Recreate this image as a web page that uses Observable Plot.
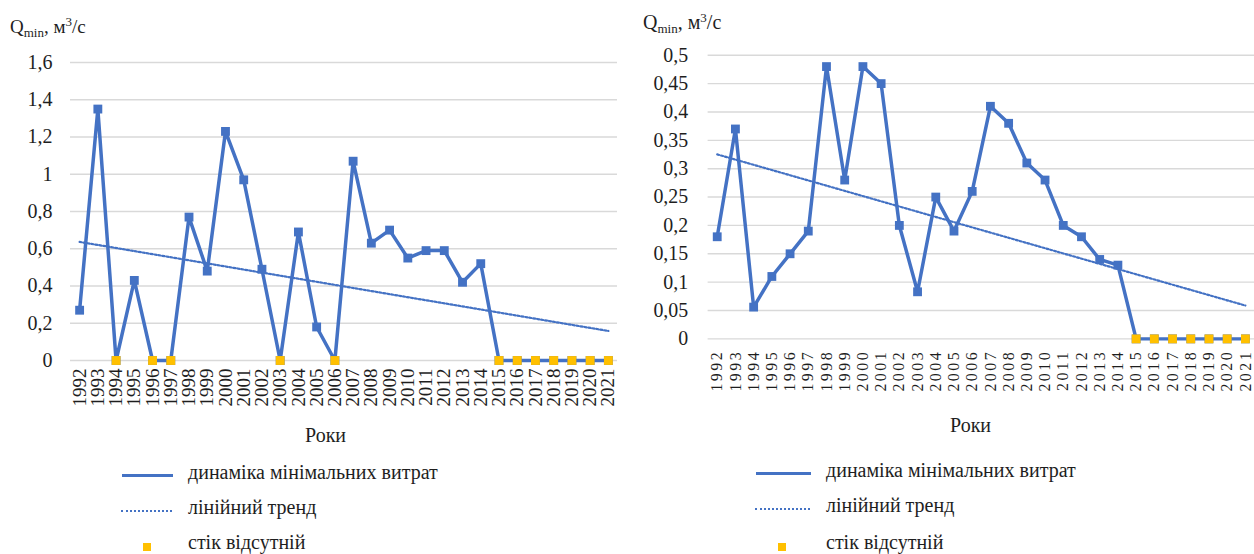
<!DOCTYPE html>
<html>
<head>
<meta charset="utf-8">
<script src="https://cdn.jsdelivr.net/npm/d3@7"></script>
<script src="https://cdn.jsdelivr.net/npm/@observablehq/plot@0.6"></script>
<style>
  html, body, body *, svg, svg text, svg tspan { font-family:'Liberation Serif', serif !important; }
  body { margin:0; width:1254px; height:554px; position:relative; overflow:hidden; background:#fff; color:#1e1e1e; }
  .abs { position:absolute; white-space:nowrap; line-height:20px; }
  #left, #right { position:absolute; top:0; }
  #left { left:0; } #right { left:627px; }
  #right g[aria-label="x-axis tick label"] text { letter-spacing:2.5px; }
  .sub { font-size:13px; position:relative; top:4px; }
  .sup { font-size:13px; position:relative; top:-7px; }
</style>
</head>
<body>
<div id="left"></div>
<div id="right"></div>

<div class="abs" style="left:10px; top:17px; font-size:19px; font-family:'Liberation Serif' !important">Q<span class="sub">min</span>, м<span class="sup">3</span>/с</div>
<div class="abs" style="left:643px; top:12px; font-size:20px; font-family:'Liberation Serif' !important">Q<span class="sub">min</span>, м<span class="sup">3</span>/с</div>
<div class="abs" style="left:305px; top:425px; font-size:20px; font-family:'Liberation Serif' !important">Роки</div>
<div class="abs" style="left:950px; top:415px; font-size:20px; font-family:'Liberation Serif' !important">Роки</div>

<div id="legendL"></div>
<div id="legendR"></div>

<script>
const years = [1992,1993,1994,1995,1996,1997,1998,1999,2000,2001,2002,2003,2004,2005,2006,2007,2008,2009,2010,2011,2012,2013,2014,2015,2016,2017,2018,2019,2020,2021];
const leftQ = [0.27,1.35,0,0.43,0,0,0.77,0.48,1.23,0.97,0.49,0,0.69,0.18,0,1.07,0.63,0.70,0.55,0.59,0.59,0.42,0.52,0,0,0,0,0,0,0];
const rightQ = [0.18,0.37,0.056,0.11,0.15,0.19,0.48,0.28,0.48,0.45,0.20,0.083,0.25,0.19,0.26,0.41,0.38,0.31,0.28,0.20,0.18,0.14,0.13,0,0,0,0,0,0,0];
const leftTicks = [0,0.2,0.4,0.6,0.8,1,1.2,1.4,1.6];
const rightTicks = [0,0.05,0.1,0.15,0.2,0.25,0.3,0.35,0.4,0.45,0.5];
const legendLabels = ["динаміка мінімальних витрат","лінійний тренд","стік відсутній"];

const BLUE = "#4472C4", YELLOW = "#FFC000", GRID = "#d9d9d9", TEXT = "#1e1e1e";
const FONT = "'Liberation Serif', serif";
const fmt = d => String(d).replace(".", ",");

function chart(values, ticks, o) {
  const data = years.map((y, i) => ({year: y, q: values[i]}));
  return Plot.plot({
    width: o.width, height: o.height,
    marginLeft: o.ml, marginRight: o.mr, marginTop: o.mt, marginBottom: o.mb,
    style: {fontFamily: FONT, color: TEXT, background: "white", overflow: "visible"},
    x: {type: "linear", domain: [1991.5, 2021.5]},
    y: {domain: [ticks[0], ticks[ticks.length - 1]]},
    marks: [
      Plot.gridY(ticks, {stroke: GRID, strokeOpacity: 1, strokeWidth: 1.4}),
      Plot.axisY(ticks, {tickSize: 0, tickPadding: o.ypad, fontSize: o.yfs, tickFormat: fmt, label: null, fill: TEXT}),
      Plot.axisX(years, {tickSize: 0, tickPadding: o.xpad, tickRotate: -90, fontSize: o.xfs, tickFormat: d => String(d), label: null, fill: TEXT}),
      Plot.linearRegressionY(data, {x: "year", y: "q", ci: 0, stroke: BLUE, strokeWidth: 2.2, strokeDasharray: "2,2"}),
      Plot.line(data, {x: "year", y: "q", stroke: BLUE, strokeWidth: 3.5}),
      Plot.dot(data, {x: "year", y: "q", symbol: "square", r: 5, fill: BLUE}),
      Plot.dot(data, {filter: d => d.q === 0, x: "year", y: "q", symbol: "square", r: 5, fill: YELLOW})
    ]
  });
}

document.getElementById("left").append(chart(leftQ, leftTicks,
  {width: 627, height: 430, ml: 70, mr: 10, mt: 62, mb: 70, ypad: 18, yfs: 20, xpad: 8, xfs: 19}));
document.getElementById("right").append(chart(rightQ, rightTicks,
  {width: 630, height: 420, ml: 81, mr: 0, mt: 55, mb: 80, ypad: 20, yfs: 20, xpad: 11, xfs: 16}));

document.querySelectorAll("svg text").forEach(t => t.style.setProperty("font-family", FONT, "important"));

function legend(el, cfg) {
  const host = document.getElementById(el);
  const mk = (css) => { const d = document.createElement("div"); d.style.cssText = "position:absolute;" + css; host.append(d); return d; };
  mk(`left:${cfg.lx}px; top:${cfg.rows[0] - 5}px; width:${cfg.lw}px; height:3px; background:${BLUE};`);
  mk(`left:${cfg.lx - 1}px; top:${cfg.rows[1] - 4}px; width:${cfg.lw}px; height:0; border-top:2px dotted ${BLUE};`);
  mk(`left:${cfg.sx}px; top:${cfg.rows[2] - 6}px; width:8px; height:8px; background:${YELLOW};`);
  legendLabels.forEach((t, i) => {
    const d = mk(`left:${cfg.tx}px; top:${cfg.rows[i] - 16}px; font-size:20px; line-height:19px; white-space:nowrap;`);
    d.style.setProperty("font-family", FONT, "important");
    d.textContent = t;
  });
}
legend("legendL", {lx: 122, lw: 51, sx: 143, tx: 188, rows: [479, 514, 549]});
legend("legendR", {lx: 756, lw: 55, sx: 778, tx: 826, rows: [477, 512, 549]});
</script>
</body>
</html>
